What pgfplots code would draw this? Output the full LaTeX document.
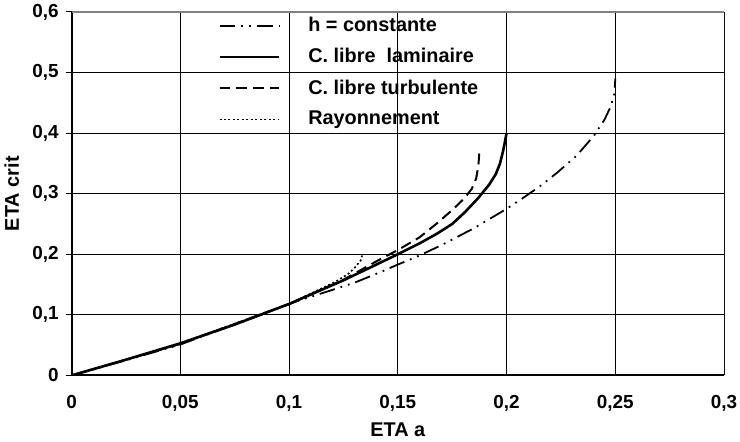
\documentclass[border=0pt]{standalone}
\usepackage{pgfplots}
\pgfplotsset{compat=1.18}
\usepackage{fontspec}
\setmainfont{Liberation Sans}[BoldFont={Liberation Sans Bold}]
\newcommand\chartfont{\fontsize{20}{24}\selectfont\bfseries}
\newcommand\tickfont{\fontsize{19}{23}\selectfont\bfseries}
\begin{document}
\chartfont
\begin{tikzpicture}[font=\chartfont]
 \begin{axis}[
  scale only axis,
  width=657pt, height=366pt,
  xmin=0, xmax=0.3, ymin=0, ymax=0.6,
  xtick={0,0.05,0.1,0.15,0.2,0.25,0.3},
  xticklabels={0,{0,05},{0,1},{0,15},{0,2},{0,25},{0,3}},
  ytick={0,0.1,0.2,0.3,0.4,0.5,0.6},
  yticklabels={0,{0,1},{0,2},{0,3},{0,4},{0,5},{0,6}},
  tick label style={font=\tickfont},
  xticklabel style={yshift=-7pt},
  label style={font=\chartfont},
  xlabel={ETA a}, ylabel={ETA crit},
  xlabel style={yshift=2pt},
  grid=major, major grid style={black, line width=0.8pt},
  axis x line=bottom, axis y line=left,
  axis line style={-, black, line width=2pt},
  tick align=outside, major tick length=6pt,
  tick style={black, line width=1pt},
  x tick style={draw=none},
  legend style={draw=none, fill=none, at={(rel axis cs:0.22,0.997)}, anchor=north west,
    font=\chartfont, row sep=10pt},
  legend cell align=left,
  legend image code/.code={\draw[#1] (0pt,0pt) -- (60pt,0pt);},
  legend style={/tikz/every odd column/.append style={column sep=26pt}},
 ]
  \addplot[black, line width=1.8pt, dash pattern=on 16pt off 6pt on 1.8pt off 6pt on 1.8pt off 6pt] coordinates {
   (0,0) (0.025,0.025) (0.05,0.051) (0.087,0.1) (0.104,0.123) (0.118,0.139)
   (0.130,0.153) (0.141,0.169) (0.15,0.183) (0.16,0.198) (0.17,0.215)
   (0.185,0.243) (0.2,0.275) (0.208,0.294) (0.216,0.314) (0.223,0.334)
   (0.232,0.362) (0.24,0.395) (0.245,0.422) (0.248,0.445) (0.2495,0.465) (0.25,0.49)
  };
  \addlegendentry{h = constante}
  \addplot[black, line width=2.6pt] coordinates {
   (0,0) (0.025,0.026) (0.05,0.053) (0.075,0.084) (0.1,0.118) (0.125,0.157)
   (0.15,0.200) (0.16,0.218) (0.168,0.234) (0.175,0.250) (0.181,0.270)
   (0.187,0.293) (0.192,0.315) (0.195,0.332) (0.197,0.350) (0.1985,0.372) (0.2,0.4)
  };
  \addlegendentry{C. libre\ \ laminaire}
  \addplot[black, line width=2pt, dash pattern=on 11pt off 6pt] coordinates {
   (0,0) (0.025,0.026) (0.05,0.052) (0.1,0.118) (0.125,0.158) (0.141,0.190)
   (0.15,0.207) (0.16,0.228) (0.168,0.251) (0.175,0.273) (0.1805,0.292)
   (0.184,0.308) (0.186,0.325) (0.187,0.345) (0.1875,0.369)
  };
  \addlegendentry{C. libre turbulente}
  \addplot[black, line width=1.6pt, dash pattern=on 2pt off 2.5pt] coordinates {
   (0,0) (0.025,0.026) (0.05,0.053) (0.1,0.118) (0.121,0.154) (0.127,0.167)
   (0.130,0.177) (0.133,0.190) (0.1336,0.198)
  };
  \addlegendentry{Rayonnement}
  \draw[gray, line width=1.2pt] (rel axis cs:0,1) -- (rel axis cs:1,1) -- (rel axis cs:1,0);
 \end{axis}
 \pgfresetboundingbox
 \path[use as bounding box] ([shift={(-72pt,-66pt)}]current axis.south west)
   rectangle ([shift={(16pt,12pt)}]current axis.north east);
\end{tikzpicture}
\end{document}
